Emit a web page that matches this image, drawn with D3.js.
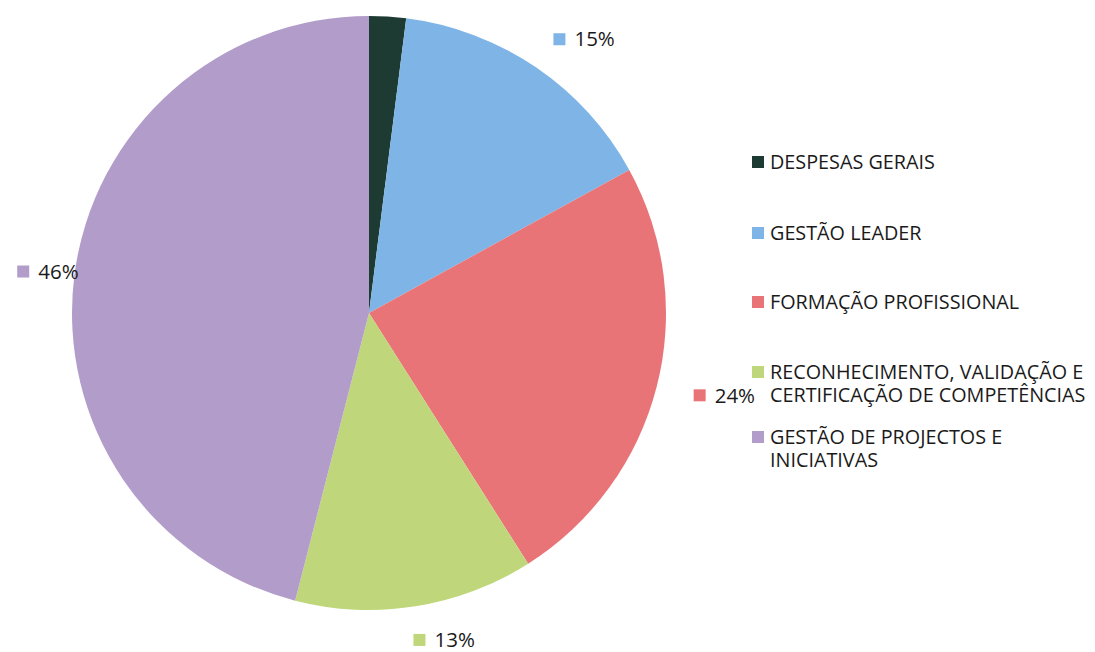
<!DOCTYPE html>
<html>
<head>
<meta charset="utf-8">
<script src="https://cdn.jsdelivr.net/npm/d3@7"></script>
<style>
  body { margin: 0; background: #fff; }
  text { font-family: "Open Sans", "Liberation Sans", sans-serif; fill: #1a1a1a; }
</style>
</head>
<body>
<div id="chart"></div>
<script>
// dados do gráfico
const categorias = ["DESPESAS GERAIS", "GESTÃO LEADER", "FORMAÇÃO PROFISSIONAL",
  "RECONHECIMENTO, VALIDAÇÃO E CERTIFICAÇÃO DE COMPETÊNCIAS", "GESTÃO DE PROJECTOS E INICIATIVAS"];
const valores = [2, 15, 24, 13, 46];
const rotulos = ["", "15%", "24%", "13%", "46%"];
const legendaLinhas = [
  ["DESPESAS GERAIS"],
  ["GESTÃO LEADER"],
  ["FORMAÇÃO PROFISSIONAL"],
  ["RECONHECIMENTO, VALIDAÇÃO E", "CERTIFICAÇÃO DE COMPETÊNCIAS"],
  ["GESTÃO DE PROJECTOS E", "INICIATIVAS"]
];
const cores = ["#1e3b33", "#7fb5e6", "#e97478", "#bfd77a", "#b29cca"];

const width = 1095, height = 652;
const cx = 369, cy = 313, raio = 297;

const svg = d3.select("#chart")
  .append("svg")
  .attr("width", width)
  .attr("height", height);

const cor = d3.scaleOrdinal().domain(categorias).range(cores);

const pie = d3.pie().sort(null).value(d => d.valor);
const dados = categorias.map((c, i) => ({ cat: c, valor: valores[i], rotulo: rotulos[i] }));
const arcos = pie(dados);

const arc = d3.arc().innerRadius(0).outerRadius(raio);

const g = svg.append("g").attr("transform", `translate(${cx},${cy})`);

g.selectAll("path")
  .data(arcos)
  .enter()
  .append("path")
  .attr("d", arc)
  .attr("fill", d => cor(d.data.cat));

// rótulos de percentagem (quadrado + texto), fora da tarte
const rot = g.selectAll(".rotulo")
  .data(arcos.filter(d => d.data.rotulo !== ""))
  .enter()
  .append("g")
  .attr("class", "rotulo")
  .attr("transform", d => {
    const a = (d.startAngle + d.endAngle) / 2;
    const x = 22 + 345 * Math.sin(a);
    const y = -331 * Math.cos(a);
    return `translate(${x - 31.5},${y})`;
  });

rot.append("rect")
  .attr("x", 0)
  .attr("y", -6)
  .attr("width", 12)
  .attr("height", 12)
  .attr("fill", d => cor(d.data.cat));

rot.append("text")
  .attr("x", 21)
  .attr("y", 0)
  .attr("dy", "0.35em")
  .style("font-size", "20.5px")
  .text(d => d.data.rotulo);

// legenda
const posLegenda = [162, 233, 302, 372, 437];
const leg = svg.selectAll(".legenda")
  .data(categorias)
  .enter()
  .append("g")
  .attr("class", "legenda")
  .attr("transform", (d, i) => `translate(752,${posLegenda[i]})`);

leg.append("rect")
  .attr("x", 0)
  .attr("y", -6)
  .attr("width", 12)
  .attr("height", 12)
  .attr("fill", d => cor(d));

leg.append("text")
  .attr("x", 18)
  .style("font-size", "19.8px")
  .selectAll("tspan")
  .data((d, i) => legendaLinhas[i])
  .enter()
  .append("tspan")
  .attr("x", 18)
  .attr("y", (d, j) => j * 23)
  .attr("dy", "0.35em")
  .text(d => d);
</script>
</body>
</html>
